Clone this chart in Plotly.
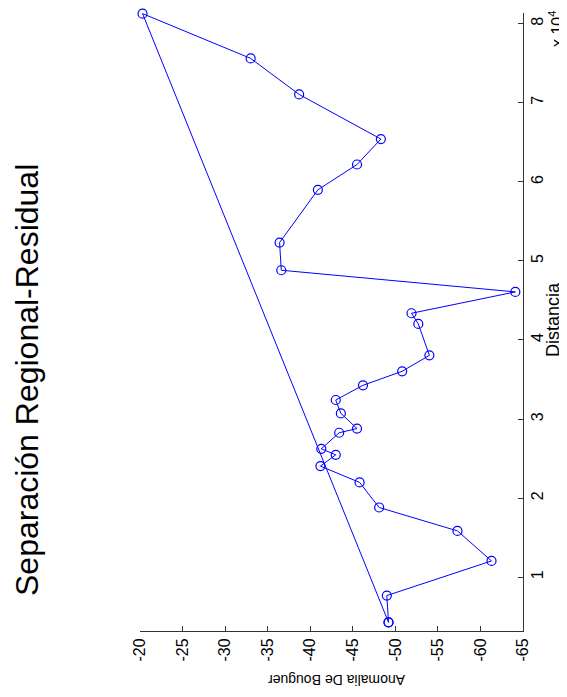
import plotly.graph_objects as go

# Data read from the (rotated) reference chart
distancia = [4300, 7680, 12060, 15860, 18820, 21990, 24050, 25480, 26240, 28270,
             28800, 30720, 32410, 34270, 36040, 38060, 42030, 43380, 46080, 48820,
             52320, 58990, 62190, 65410, 71050, 75610, 81270]
anomalia = [-49.2, -49.0, -61.3, -57.3, -48.1, -45.8, -41.2, -43.0, -41.3, -43.4,
            -45.5, -43.6, -43.0, -46.2, -50.8, -54.0, -52.7, -51.9, -64.1, -36.6,
            -36.4, -40.9, -45.5, -48.3, -38.7, -33.0, -20.3]

anom_ticks = [-20, -25, -30, -35, -40, -45, -50, -55, -60, -65]
dist_ticks = [10000, 20000, 30000, 40000, 50000, 60000, 70000, 80000]
dist_ticklabels = ["1", "2", "3", "4", "5", "6", "7", "8"]

title_text = "Separación Regional-Residual"
xlabel_text = "Distancia"
ylabel_text = "Anomalia De Bouguer"
exp_text = "x 10<sup>4</sup>"

# closed polygon: the line returns to the first point
xs = anomalia + [anomalia[0]]
ys = distancia + [distancia[0]]

FONT = "Liberation Sans, Arial, sans-serif"
BLUE = "#0000FF"

# the page body adds an 8px margin, so the figure is drawn 8px smaller/offset
OFF = 8
W, H = 567 - OFF, 697 - OFF
L, T = 140 - OFF, 13 - OFF
R = W - (523 - OFF)
B = H - (631 - OFF)

fig = go.Figure()
fig.add_trace(go.Scatter(
    x=xs, y=ys, mode="lines+markers",
    line=dict(color=BLUE, width=1),
    marker=dict(symbol="circle-open", size=9, color=BLUE, line=dict(width=1.2, color=BLUE)),
    cliponaxis=False, showlegend=False,
))

fig.update_layout(
    width=W, height=H,
    margin=dict(l=L, r=R, t=T, b=B, autoexpand=False),
    paper_bgcolor="white", plot_bgcolor="white",
    font=dict(family=FONT, color="black"),
    showlegend=False,
)

fig.update_xaxes(
    range=[-20, -65], tickvals=anom_ticks, ticktext=[str(v) for v in anom_ticks],
    tickangle=-90, tickfont=dict(size=16, family=FONT, color="black"),
    ticks="inside", ticklen=5, tickcolor="#333",
    showline=True, linecolor="#333", linewidth=1, mirror=False,
    showgrid=False, zeroline=False, automargin=False,
)
fig.update_yaxes(
    range=[3200, 81350], side="right", tickvals=dist_ticks, ticktext=dist_ticklabels,
    tickangle=-90, tickfont=dict(size=16, family=FONT, color="black"),
    ticks="inside", ticklen=5, tickcolor="#333",
    showline=True, linecolor="#333", linewidth=1, mirror=False,
    showgrid=False, zeroline=False, automargin=False,
)

def px_x(p):
    return (p - OFF - L) / (W - L - R)

def px_y(p):
    return (H - B - (p - OFF)) / (H - T - B)

fig.add_annotation(text=title_text, xref="paper", yref="paper",
                   x=px_x(27), y=px_y(380), xanchor="center", yanchor="middle",
                   textangle=-90, showarrow=False, font=dict(size=32, family=FONT))
fig.add_annotation(text=ylabel_text, xref="paper", yref="paper",
                   x=px_x(337), y=px_y(680), xanchor="center", yanchor="middle",
                   textangle=180, showarrow=False, font=dict(size=14, family=FONT))
fig.add_annotation(text=xlabel_text, xref="paper", yref="paper",
                   x=px_x(553), y=px_y(320), xanchor="center", yanchor="middle",
                   textangle=-90, showarrow=False, font=dict(size=18, family=FONT))
fig.add_annotation(text=exp_text, xref="paper", yref="paper",
                   x=px_x(556), y=px_y(29), xanchor="center", yanchor="middle",
                   textangle=-90, showarrow=False, font=dict(size=16, family=FONT))

fig.write_html("out.html")
